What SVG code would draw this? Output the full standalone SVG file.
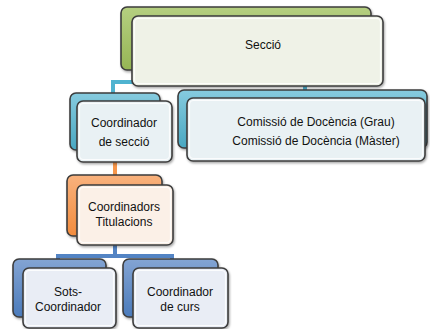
<svg xmlns="http://www.w3.org/2000/svg" width="430" height="329" viewBox="0 0 430 329">
<defs>
<linearGradient id="gGreen" x1="0" y1="0" x2="0" y2="1"><stop offset="0" stop-color="#b5cf80"/><stop offset="1" stop-color="#96b655"/></linearGradient>
<linearGradient id="gTeal" x1="0" y1="0" x2="0" y2="1"><stop offset="0" stop-color="#86cbdf"/><stop offset="1" stop-color="#4aa8c2"/></linearGradient>
<linearGradient id="gOrange" x1="0" y1="0" x2="0" y2="1"><stop offset="0" stop-color="#f9b27d"/><stop offset="1" stop-color="#f28c3e"/></linearGradient>
<linearGradient id="gBlue" x1="0" y1="0" x2="0" y2="1"><stop offset="0" stop-color="#83a4d3"/><stop offset="1" stop-color="#4b7bbb"/></linearGradient>
<filter id="sh" x="-10%" y="-10%" width="130%" height="130%"><feDropShadow dx="1" dy="1.5" stdDeviation="1" flood-color="#000" flood-opacity="0.35"/></filter>
</defs>
<style>
.back{stroke:#3d3d3d;stroke-width:1.6;filter:url(#sh)}
.front{stroke:#3d3d3d;stroke-width:1.6;filter:url(#sh)}
.inner{fill:none;stroke:#ffffff;stroke-width:1.2;opacity:0.8}
.lbl{font-family:"Liberation Sans",Arial,sans-serif;font-size:12px;fill:#111111;text-anchor:middle}
.conn{fill:none;stroke-width:4}
</style>
<g id="connectors">
<path class="conn" stroke="#4fb3d0" d="M248,86 V82 M113,96 V82 H305 V92"/>
<path class="conn" stroke="#f7964a" d="M115,162 V176"/>
<path class="conn" stroke="#5384c4" d="M115,245 V256 M58,261 V256 H172 V261"/>
</g>
<g id="seccio">
<rect class="back" x="121" y="7" width="250" height="63" rx="6" fill="url(#gGreen)"/>
<rect class="front" x="132" y="16" width="251" height="70" rx="6" fill="#eff2e7"/>
<rect class="inner" x="134.5" y="18.5" width="246" height="65" rx="4"/>
<text class="lbl" x="263" y="49">Secció</text>
</g>
<g id="coordinador-seccio">
<rect class="back" x="70" y="93" width="90" height="57" rx="6" fill="url(#gTeal)"/>
<rect class="front" x="77" y="101" width="95" height="61" rx="6" fill="#e9f1f4"/>
<rect class="inner" x="79.5" y="103.5" width="90" height="56" rx="4"/>
<text class="lbl" x="124" y="127">Coordinador</text>
<text class="lbl" x="124" y="146">de secció</text>
</g>
<g id="comissio">
<rect class="back" x="178" y="90" width="249" height="58" rx="6" fill="url(#gTeal)"/>
<rect class="front" x="187" y="98" width="238" height="63" rx="6" fill="#e9f1f4"/>
<rect class="inner" x="189.5" y="100.5" width="233" height="58" rx="4"/>
<text class="lbl" x="316" y="126">Comissió de Docència (Grau)</text>
<text class="lbl" x="316" y="145">Comissió de Docència (Màster)</text>
</g>
<g id="coordinadors-titulacions">
<rect class="back" x="67" y="175" width="95" height="61" rx="6" fill="url(#gOrange)"/>
<rect class="front" x="77" y="185" width="96" height="60" rx="6" fill="#fbf0e7"/>
<rect class="inner" x="79.5" y="187.5" width="91" height="55" rx="4"/>
<text class="lbl" x="124" y="211">Coordinadors</text>
<text class="lbl" x="124" y="226">Titulacions</text>
</g>
<g id="sots-coordinador">
<rect class="back" x="13" y="259" width="93" height="58" rx="6" fill="url(#gBlue)"/>
<rect class="front" x="23" y="268" width="93" height="60" rx="6" fill="#e9edf5"/>
<rect class="inner" x="25.5" y="270.5" width="88" height="55" rx="4"/>
<text class="lbl" x="68" y="296">Sots-</text>
<text class="lbl" x="68" y="311">Coordinador</text>
</g>
<g id="coordinador-curs">
<rect class="back" x="123" y="259" width="95" height="58" rx="6" fill="url(#gBlue)"/>
<rect class="front" x="133" y="268" width="95" height="60" rx="6" fill="#e9edf5"/>
<rect class="inner" x="135.5" y="270.5" width="90" height="55" rx="4"/>
<text class="lbl" x="180" y="296">Coordinador</text>
<text class="lbl" x="180" y="311">de curs</text>
</g>
</svg>
